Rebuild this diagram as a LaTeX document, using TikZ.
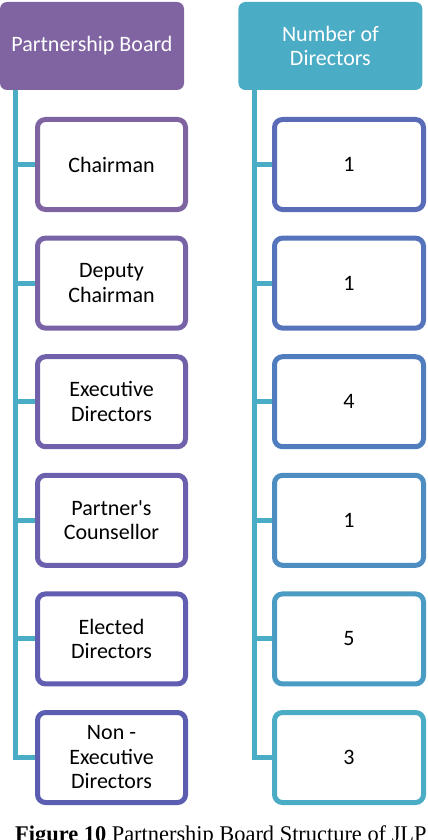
\documentclass[tikz,border=0pt]{standalone}
\usepackage{fontspec}
\setmainfont{Carlito}
\newfontfamily\capfont{Liberation Serif}
\usetikzlibrary{positioning}

\definecolor{boardpurple}{HTML}{8064A2}
\definecolor{boardteal}{HTML}{4BACC6}
\definecolor{roleA}{HTML}{8064A2}
\definecolor{roleB}{HTML}{7963A7}
\definecolor{roleC}{HTML}{7161AA}
\definecolor{roleD}{HTML}{6A60AD}
\definecolor{roleE}{HTML}{615DB0}
\definecolor{roleF}{HTML}{5A5DB0}
\definecolor{countA}{HTML}{5A6BB8}
\definecolor{countB}{HTML}{5674BB}
\definecolor{countC}{HTML}{507DBE}
\definecolor{countD}{HTML}{4D8DC2}
\definecolor{countE}{HTML}{4A9CC5}
\definecolor{countF}{HTML}{4BACC6}

\begin{document}
\begin{tikzpicture}[
    x=1pt, y=-1pt,
    header/.style={rounded corners=7pt, minimum width=184pt,
                   minimum height=88pt, text=white, align=center,
                   font=\fontsize{22}{24.5}\selectfont},
    block/.style={draw, line width=5pt, rounded corners=8pt, fill=white,
                  minimum width=148pt, minimum height=90pt, align=center,
                  font=\fontsize{22}{24.5}\selectfont},
    link/.style={draw=boardteal, line width=5pt},
  ]

  \useasboundingbox (0,0) rectangle (428,840);

  % headers
  \node[header, fill=boardpurple] (board) at (92,46) {Partnership Board};
  \node[header, fill=boardteal, right=54pt of board] (count)
    {Number of\\Directors};

  % roles
  \node[block, draw=roleA] (chair) at (111.5,164.5) {Chairman};
  \node[block, draw=roleB, below=23.6pt of chair] (deputy)
    {Deputy\\Chairman};
  \node[block, draw=roleC, below=23.6pt of deputy] (exec)
    {Executive\\Directors};
  \node[block, draw=roleD, below=23.6pt of exec] (counsel)
    {Partner\textquotesingle s\\Counsellor};
  \node[block, draw=roleE, below=23.6pt of counsel] (elected)
    {Elected\\Directors};
  \node[block, draw=roleF, below=23.6pt of elected] (nonexec)
    {Non -\\Executive\\Directors};

  % numbers
  \node[block, draw=countA, minimum width=149pt, right=84pt of chair] (nchair) {1};
  \node[block, draw=countB, minimum width=149pt, right=84pt of deputy] (ndeputy) {1};
  \node[block, draw=countC, minimum width=149pt, right=84pt of exec] (nexec) {4};
  \node[block, draw=countD, minimum width=149pt, right=84pt of counsel] (ncounsel) {1};
  \node[block, draw=countE, minimum width=149pt, right=84pt of elected] (nelected) {5};
  \node[block, draw=countF, minimum width=149pt, right=84pt of nonexec] (nnonexec) {3};

  \draw[link] ([xshift=16pt]board.south west) |- (nonexec.west);
  \draw[link] ([xshift=16pt]board.south west) |- (chair.west);
  \draw[link] ([xshift=16pt]board.south west) |- (deputy.west);
  \draw[link] ([xshift=16pt]board.south west) |- (exec.west);
  \draw[link] ([xshift=16pt]board.south west) |- (counsel.west);
  \draw[link] ([xshift=16pt]board.south west) |- (elected.west);

  \draw[link] ([xshift=16.5pt]count.south west) |- (nnonexec.west);
  \draw[link] ([xshift=16.5pt]count.south west) |- (nchair.west);
  \draw[link] ([xshift=16.5pt]count.south west) |- (ndeputy.west);
  \draw[link] ([xshift=16.5pt]count.south west) |- (nexec.west);
  \draw[link] ([xshift=16.5pt]count.south west) |- (ncounsel.west);
  \draw[link] ([xshift=16.5pt]count.south west) |- (nelected.west);

  % caption, cut by the page edge
  \node[anchor=base west, inner sep=0pt,
        font=\capfont\fontsize{22.4}{26}\selectfont] (caption) at (15,841)
    {\textbf{Figure 10} Partnership Board Structure of JLP};

\end{tikzpicture}
\end{document}
